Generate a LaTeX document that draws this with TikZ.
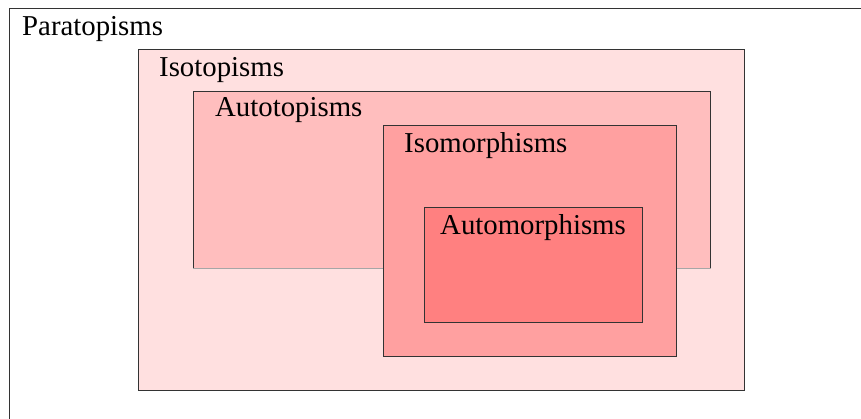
\documentclass[tikz,border=0pt]{standalone}
\usepackage{fontspec}
\setmainfont{Liberation Serif}
\definecolor{isoc}{RGB}{255,224,224}
\definecolor{autotc}{RGB}{255,190,190}
\definecolor{isomc}{RGB}{255,160,160}
\definecolor{automc}{RGB}{255,128,128}
\tikzset{
  setbox/.style={draw=black!80, line width=1pt, rectangle, inner sep=0pt, anchor=north west},
  setlabel/.style={anchor=base west, inner sep=0pt, font=\fontsize{28.8}{34}\selectfont}
}
\begin{document}
\begin{tikzpicture}[x=1pt,y=-1pt]
\useasboundingbox (0,0) rectangle (861,419);
\clip (0,0) rectangle (861,419);
\node[setbox, minimum width=880pt, minimum height=440pt] (para) at (8.5,8.5) {};
\node[setbox, fill=isoc, minimum width=606pt, minimum height=341pt] (iso) at (138,49) {};
\node[setbox, fill=autotc, minimum width=517pt, minimum height=177pt] (autot) at (193,91) {};
\draw[black!35, line width=1pt] (autot.south west) -- (autot.south east);
\node[setbox, fill=isomc, minimum width=293pt, minimum height=231pt] (isom) at (383,125) {};
\node[setbox, fill=automc, minimum width=218pt, minimum height=115pt] (autom) at (424,207) {};
\node[setlabel] (tpara) at (22,36) {Paratopisms};
\node[setlabel] (tiso) at (159,77) {Isotopisms};
\node[setlabel] (tautot) at (215,117) {Autotopisms};
\node[setlabel] (tisom) at (404,153) {Isomorphisms};
\node[setlabel] (tautom) at (440,235) {Automorphisms};
\end{tikzpicture}
\end{document}
